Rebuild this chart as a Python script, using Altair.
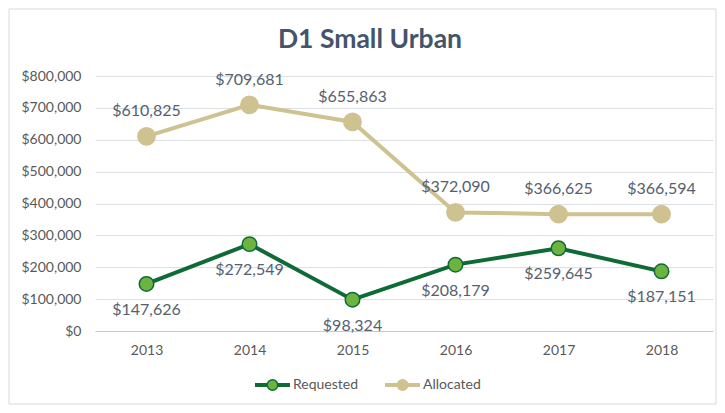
import altair as alt
import pandas as pd

years = ["2013", "2014", "2015", "2016", "2017", "2018"]
requested = [147626, 272549, 98324, 208179, 259645, 187151]
allocated = [610825, 709681, 655863, 372090, 366625, 366594]
series_names = ["Requested", "Allocated"]
line_colors = ["#0E6B36", "#CFC291"]
fill_colors = ["#6DB33F", "#CFC291"]
y_ticks = [0, 100000, 200000, 300000, 400000, 500000, 600000, 700000, 800000]
chart_title = "D1 Small Urban"

rows = []
for y, r, a in zip(years, requested, allocated):
    rows.append({"year": y, "series": "Requested", "value": r})
    rows.append({"year": y, "series": "Allocated", "value": a})
df = pd.DataFrame(rows)

FONT = "Lato"
TXT = "#55606F"

x = alt.X("year:O", title=None,
          scale=alt.Scale(type="point", padding=0.5),
          axis=alt.Axis(labelAngle=0, labelFontSize=14, labelColor="#595959",
                        labelFont=FONT, ticks=False, domainColor="#C8C8C8",
                        labelPadding=12, grid=False))
y = alt.Y("value:Q", title=None,
          scale=alt.Scale(domain=[0, 800000]),
          axis=alt.Axis(values=y_ticks, format="$,.0f", labelFontSize=14,
                        labelColor="#595959", labelFont=FONT, ticks=False,
                        domain=False, gridColor="#DCE0E6", labelPadding=14))

color = alt.Color("series:N", scale=alt.Scale(domain=series_names, range=line_colors), legend=None)

base = alt.Chart(df).encode(x=x, y=y)

lines = base.mark_line(strokeWidth=4).encode(color=color)

pts = base.mark_point(filled=True, opacity=1, shape="circle").encode(
    fill=alt.Fill("series:N", scale=alt.Scale(domain=series_names, range=fill_colors), legend=None),
    stroke=alt.Stroke("series:N", scale=alt.Scale(domain=series_names, range=line_colors), legend=None),
    size=alt.Size("series:N", scale=alt.Scale(domain=series_names, range=[210, 300]), legend=None),
    strokeWidth=alt.value(1.5),
)

lab_alloc = base.transform_filter(alt.datum.series == "Allocated").mark_text(
    dy=-25, fontSize=16, font=FONT, color=TXT, baseline="middle"
).encode(text=alt.Text("value:Q", format="$,.0f"))

lab_req = base.transform_filter(alt.datum.series == "Requested").mark_text(
    dy=26, fontSize=16, font=FONT, color=TXT, baseline="middle"
).encode(text=alt.Text("value:Q", format="$,.0f"))

one = pd.DataFrame({"t": [chart_title]})
border = alt.Chart(one).mark_rect(
    fill=None, stroke="#D9D9D9", strokeWidth=1, clip=False
).encode(x=alt.value(-86), x2=alt.value(621), y=alt.value(-67), y2=alt.value(328))

title = alt.Chart(one).mark_text(
    fontSize=26.5, font=FONT, fontWeight="bold", color="#44546A", baseline="middle"
).encode(text="t:N", x=alt.value(275), y=alt.value(-36))

# manual legend (layout positions in plot pixels)
LEG_Y = 309
LEG_X0 = [160, 290]
legend_layers = []
for name, lc, fc, x0 in zip(series_names, line_colors, fill_colors, LEG_X0):
    ld = pd.DataFrame({"name": [name]})
    legend_layers.append(alt.Chart(ld).mark_rule(strokeWidth=4, color=lc, clip=False).encode(
        x=alt.value(x0), x2=alt.value(x0 + 35), y=alt.value(LEG_Y)))
    legend_layers.append(alt.Chart(ld).mark_point(filled=True, opacity=1, fill=fc, stroke=lc,
                                                   strokeWidth=1.5, size=110, clip=False).encode(
        x=alt.value(x0 + 17.5), y=alt.value(LEG_Y)))
    legend_layers.append(alt.Chart(ld).mark_text(align="left", baseline="middle", fontSize=14,
                                                  font=FONT, color="#595959").encode(
        text="name:N", x=alt.value(x0 + 38), y=alt.value(LEG_Y)))

chart = alt.layer(border, lines, pts, lab_alloc, lab_req, title, *legend_layers).properties(
    width=618, height=255,
    autosize=alt.AutoSizeParams(type="none"),
    padding={"left": 87, "top": 68, "right": 4, "bottom": 74},
).configure_view(stroke=None)

chart.save("out.html", embed_options={"renderer": "svg", "actions": False})
